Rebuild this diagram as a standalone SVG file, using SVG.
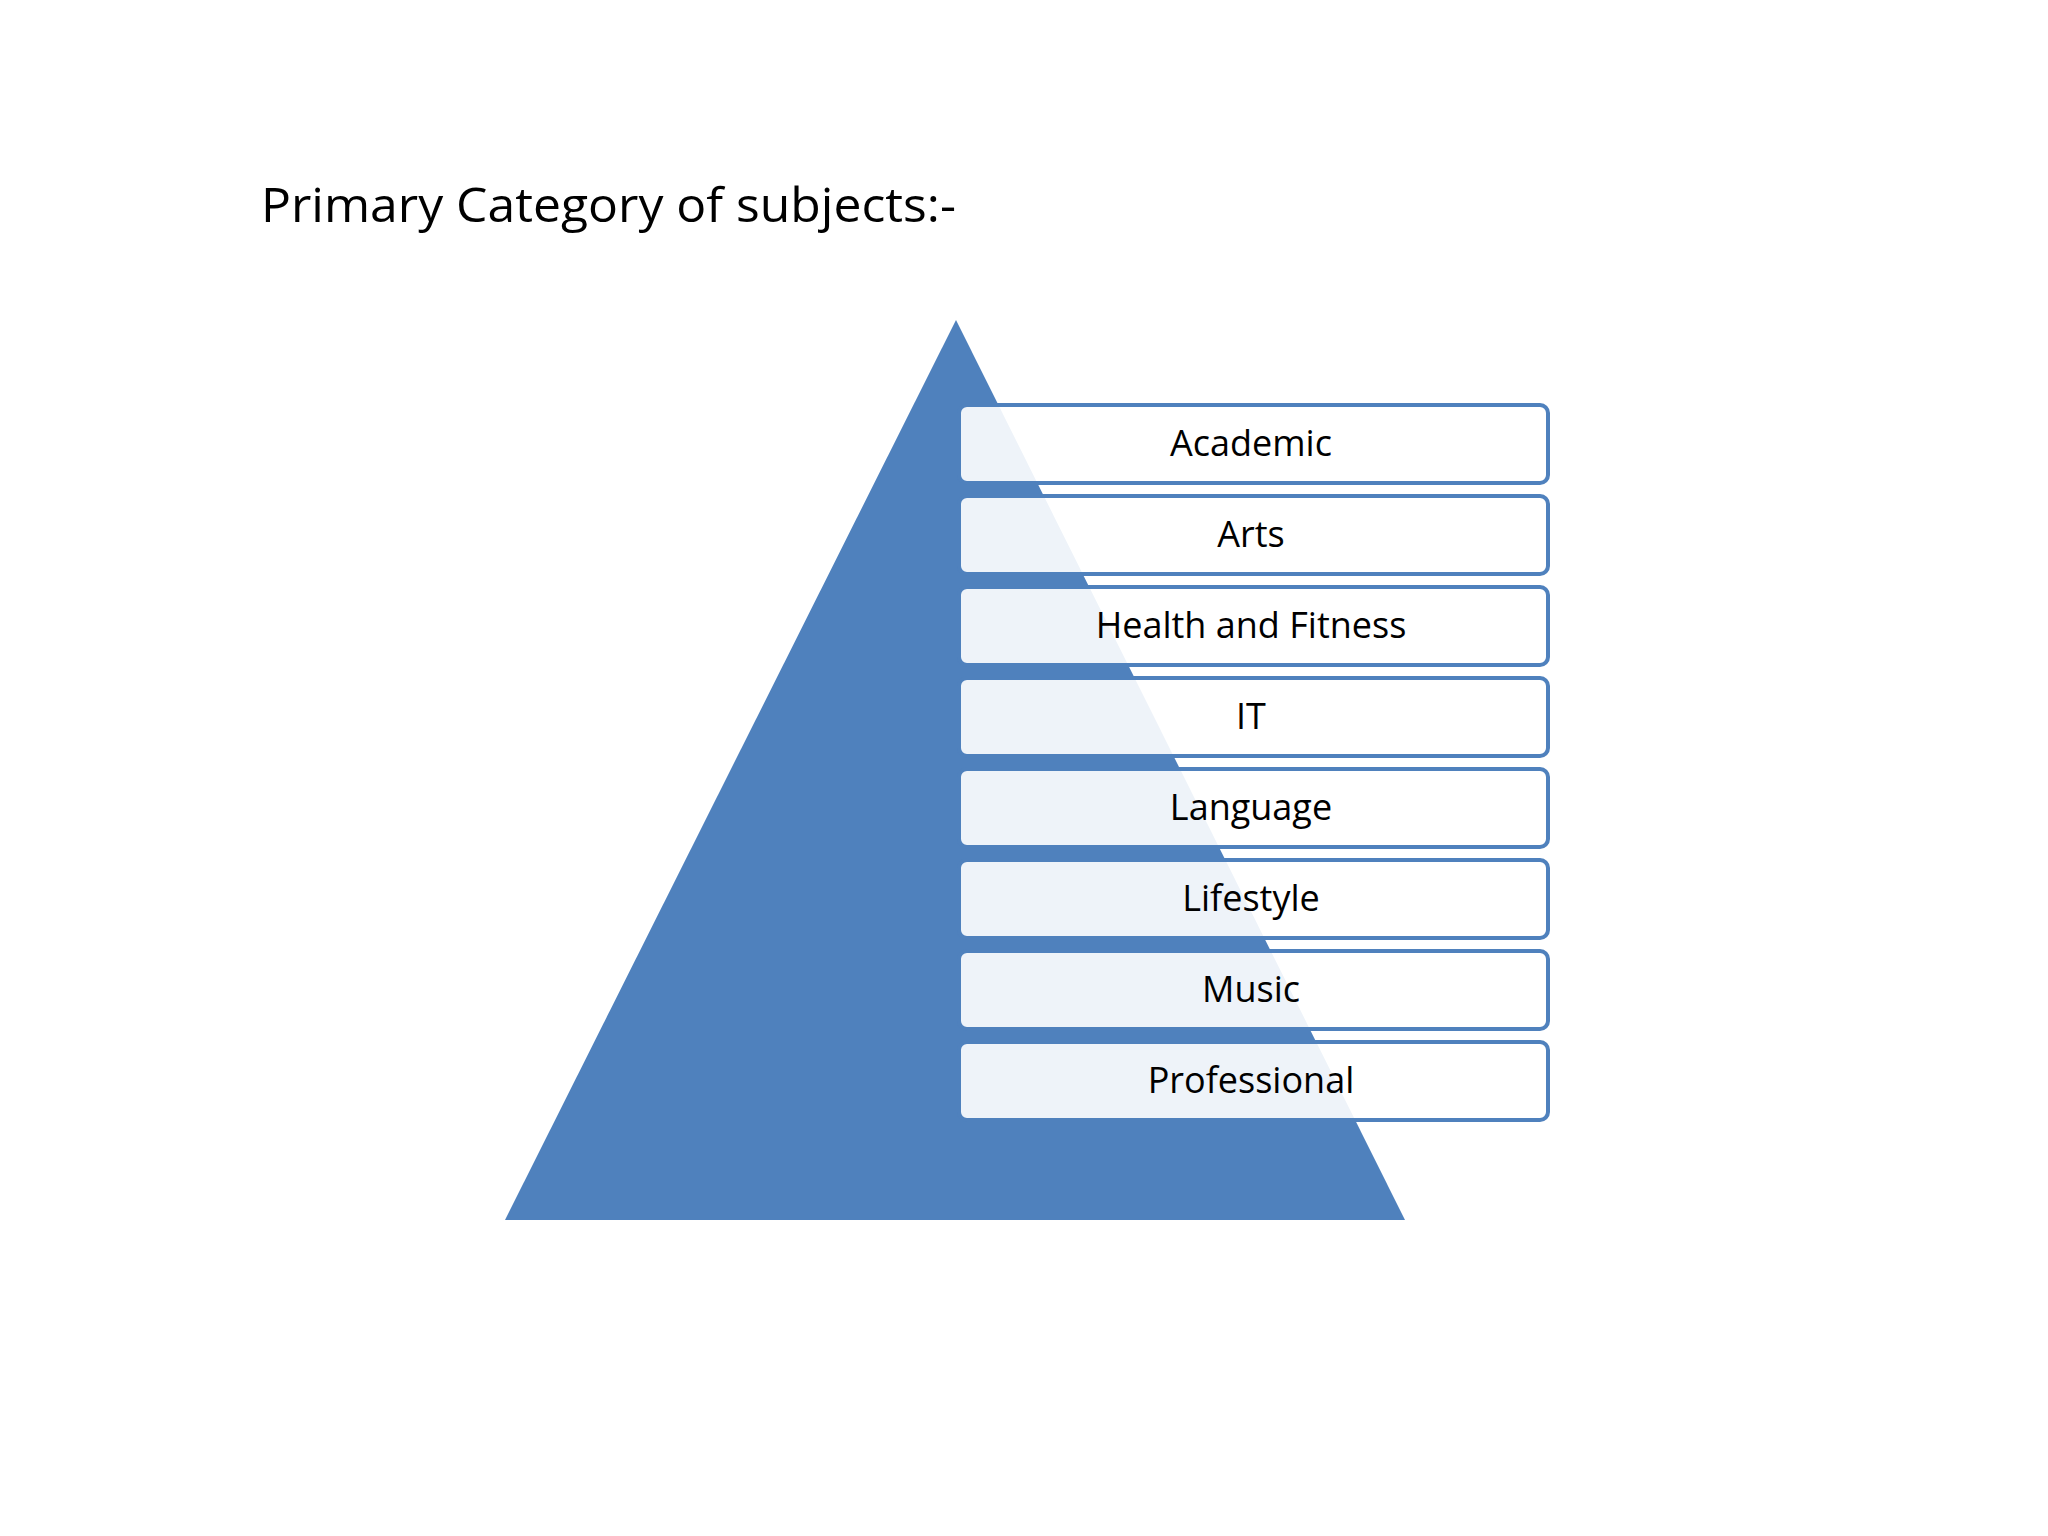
<svg xmlns="http://www.w3.org/2000/svg" width="2048" height="1536" viewBox="0 0 2048 1536">
<style>
.box rect{fill:#ffffff;fill-opacity:0.9;stroke:#4F81BD;stroke-width:4}
.box text{font-family:"Open Sans","Liberation Sans",sans-serif;font-size:36px;fill:#000;text-anchor:middle}
</style>
<rect width="2048" height="1536" fill="#fff"/>
<text x="261" y="222" font-family="Open Sans, Liberation Sans, sans-serif" font-size="47" textLength="695" lengthAdjust="spacingAndGlyphs">Primary Category of subjects:-</text>
<polygon id="pyramid" points="956,320 505,1220 1405,1220" fill="#4F81BD"/>
<g id="n1" class="box"><rect x="959" y="405" width="589" height="78" rx="8"/><text x="1251" y="456">Academic</text></g>
<g id="n2" class="box"><rect x="959" y="496" width="589" height="78" rx="8"/><text x="1251" y="547">Arts</text></g>
<g id="n3" class="box"><rect x="959" y="587" width="589" height="78" rx="8"/><text x="1251" y="638">Health and Fitness</text></g>
<g id="n4" class="box"><rect x="959" y="678" width="589" height="78" rx="8"/><text x="1251" y="729">IT</text></g>
<g id="n5" class="box"><rect x="959" y="769" width="589" height="78" rx="8"/><text x="1251" y="820">Language</text></g>
<g id="n6" class="box"><rect x="959" y="860" width="589" height="78" rx="8"/><text x="1251" y="911">Lifestyle</text></g>
<g id="n7" class="box"><rect x="959" y="951" width="589" height="78" rx="8"/><text x="1251" y="1002">Music</text></g>
<g id="n8" class="box"><rect x="959" y="1042" width="589" height="78" rx="8"/><text x="1251" y="1093">Professional</text></g>
<g id="connectors"/>
</svg>
